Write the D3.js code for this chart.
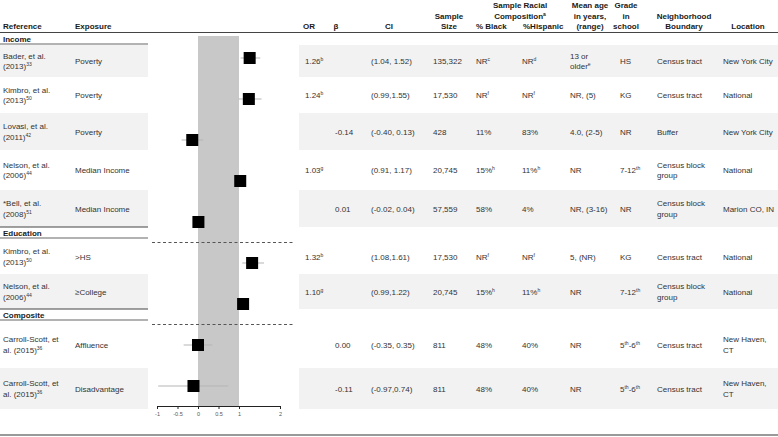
<!DOCTYPE html>
<html>
<head>
<meta charset="utf-8">
<script src="https://cdn.jsdelivr.net/npm/d3@7"></script>
<style>
  body { margin: 0; background: #fff; }
  svg { display: block; font-family: "Liberation Sans", Arial, sans-serif; }
</style>
</head>
<body>
<svg id="chart"></svg>
<script>
'use strict'

// ---- data ----
const category = ["Income", "Income", "Income", "Income", "Income", "Education", "Education", "Composite", "Composite"];
const reference = ["Bader, et al.|(2013)^{33}", "Kimbro, et al.|(2013)^{50}", "Lovasi, et al.|(2011)^{42}",
    "Nelson, et al.|(2006)^{44}", "*Bell, et al.|(2008)^{51}", "Kimbro, et al.|(2013)^{50}",
    "Nelson, et al.|(2006)^{44}", "Carroll-Scott, et|al. (2015)^{36}", "Carroll-Scott, et|al. (2015)^{36}"];
const exposure = ["Poverty", "Poverty", "Poverty", "Median Income", "Median Income", ">HS", "≥College", "Affluence", "Disadvantage"];
const orText = ["1.26^{b}", "1.24^{b}", "", "1.03^{g}", "", "1.32^{b}", "1.10^{g}", "", ""];
const betaText = ["", "", "-0.14", "", "0.01", "", "", "0.00", "-0.11"];
const estimate = [1.26, 1.24, -0.14, 1.03, 0.01, 1.32, 1.10, 0.00, -0.11];
const ciLow = [1.04, 0.99, -0.40, 0.91, -0.02, 1.08, 0.99, -0.35, -0.97];
const ciHigh = [1.52, 1.55, 0.13, 1.17, 0.04, 1.61, 1.22, 0.35, 0.74];
const ciText = ["(1.04, 1.52)", "(0.99,1.55)", "(-0.40, 0.13)", "(0.91, 1.17)", "(-0.02, 0.04)",
    "(1.08,1.61)", "(0.99,1.22)", "(-0.35, 0.35)", "(-0.97,0.74)"];
const sampleSize = ["135,322", "17,530", "428", "20,745", "57,559", "17,530", "20,745", "811", "811"];
const pctBlack = ["NR^{c}", "NR^{f}", "11%", "15%^{h}", "58%", "NR^{f}", "15%^{h}", "48%", "48%"];
const pctHispanic = ["NR^{d}", "NR^{f}", "83%", "11%^{h}", "4%", "NR^{f}", "11%^{h}", "40%", "40%"];
const meanAge = ["13 or|older^{e}", "NR, (5)", "4.0, (2-5)", "NR", "NR, (3-16)", "5, (NR)", "NR", "NR", "NR"];
const grade = ["HS", "KG", "NR", "7-12^{th}", "NR", "KG", "7-12^{th}", "5^{th}-6^{th}", "5^{th}-6^{th}"];
const boundary = ["Census tract", "Census tract", "Buffer", "Census block|group", "Census block|group",
    "Census tract", "Census block|group", "Census tract", "Census tract"];
const place = ["New York City", "National", "New York City", "National", "Marion CO, IN", "National",
    "National", "New Haven,|CT", "New Haven,|CT"];
const axisTicks = [-1, -0.5, 0, 0.5, 1, 2];

// ---- layout ----
const width = 778, height = 437;
const rowTop = [45, 77, 113, 150, 190, 239, 274, 321, 368];
const rowBottom = [77, 113, 150, 190, 227, 274, 309, 368, 409];
const leftEdge = 148, rightStart = 299;
const lineGap = 10.5;

const svg = d3.select("#chart").attr("width", width).attr("height", height);

// writes "abc^{x}" as text with superscripts
function richText(sel, str) {
    const parts = str.split(/\^\{([^}]*)\}/);
    let raised = false;
    parts.forEach((p, i) => {
        if (p === "") { return; }
        const sup = i % 2 === 1;
        const t = sel.append("tspan").text(p);
        if (sup && !raised) { t.attr("font-size", 5).attr("dy", -3); raised = true; }
        else if (!sup && raised) { t.attr("dy", 3); raised = false; }
        else if (sup) { t.attr("font-size", 5); }
    });
}

function cell(g, str, x, anchor, cy, opts) {
    const lines = str.split("|");
    lines.forEach((ln, i) => {
        const t = g.append("text")
            .attr("x", x)
            .attr("y", cy + (i - (lines.length - 1) / 2) * lineGap + 3)
            .attr("text-anchor", anchor)
            .attr("font-size", 8)
            .attr("fill", opts && opts.bold ? "#1a1a1a" : "#333")
            .attr("font-weight", opts && opts.bold ? "bold" : null);
        richText(t, ln);
    });
}

// row shading
const shade = svg.append("g");
rowTop.forEach((top, i) => {
    if (i % 2 !== 0) return;
    shade.append("rect").attr("x", 0).attr("y", top).attr("width", leftEdge)
        .attr("height", rowBottom[i] - top).attr("fill", "#f2f2f2");
    shade.append("rect").attr("x", rightStart).attr("y", top).attr("width", width - rightStart)
        .attr("height", rowBottom[i] - top).attr("fill", "#f2f2f2");
});

// header
const head = svg.append("g");
const headers = [
    { t: "Reference", x: 3, a: "start" },
    { t: "Exposure", x: 75, a: "start" },
    { t: "OR", x: 309, a: "middle" },
    { t: "β", x: 336, a: "middle" },
    { t: "CI", x: 389, a: "middle" },
    { t: "Sample|Size", x: 449, a: "middle" },
    { t: "Sample Racial|Composition^{a}|", x: 520, a: "middle" },
    { t: "% Black", x: 476, a: "start" },
    { t: "%Hispanic", x: 523, a: "start" },
    { t: "Mean age|in years,|(range)", x: 590, a: "middle" },
    { t: "Grade|in|school", x: 626, a: "middle" },
    { t: "Neighborhood|Boundary", x: 684, a: "middle" },
    { t: "Location", x: 748, a: "middle" }
];
headers.forEach(h => {
    const lines = h.t.split("|");
    lines.forEach((ln, i) => {
        if (ln === "") return;
        const t = head.append("text")
            .attr("x", h.x)
            .attr("y", 26 - (lines.length - 1 - i) * lineGap + 3)
            .attr("text-anchor", h.a)
            .attr("font-size", 8)
            .attr("font-weight", "bold")
            .attr("fill", "#1a1a1a");
        richText(t, ln);
    });
});
svg.append("line").attr("x1", 0).attr("x2", width).attr("y1", 32.5).attr("y2", 32.5)
    .attr("stroke", "#444").attr("stroke-width", 1);
svg.append("line").attr("x1", 0).attr("x2", width).attr("y1", 435).attr("y2", 435)
    .attr("stroke", "#999").attr("stroke-width", 2);

// section headers
const sectionNames = Array.from(new Set(category));
sectionNames.forEach((name, si) => {
    const first = category.indexOf(name);
    const top = rowTop[first];
    if (si > 0) {
        svg.append("line").attr("x1", 0).attr("x2", leftEdge).attr("y1", top - 12).attr("y2", top - 12)
            .attr("stroke", "#444").attr("stroke-width", 1);
    }
    svg.append("line").attr("x1", 0).attr("x2", leftEdge).attr("y1", top - 1).attr("y2", top - 1)
        .attr("stroke", "#999").attr("stroke-width", 1.5);
    cell(svg, name, 3, "start", top - 6.5, { bold: true });
});

// table body
const columns = [
    { v: reference, x: 3 }, { v: exposure, x: 75 }, { v: orText, x: 305 }, { v: betaText, x: 335 },
    { v: ciText, x: 371 }, { v: sampleSize, x: 433 }, { v: pctBlack, x: 476 }, { v: pctHispanic, x: 522 },
    { v: meanAge, x: 570 }, { v: grade, x: 620 }, { v: boundary, x: 657 }, { v: place, x: 723 }
];
const body = svg.append("g");
columns.forEach(c => {
    c.v.forEach((str, i) => {
        if (str === "") return;
        cell(body, str, c.x, "start", (rowTop[i] + rowBottom[i]) / 2);
    });
});

// forest plot
const x = d3.scaleLinear().domain([-1, 2]).range([157, 280]);
const y = d3.scalePoint().domain(d3.range(estimate.length)).range([58, 386]);
const axisY = 406;

const plot = svg.append("g");
plot.append("rect")
    .attr("x", x(0)).attr("y", 36)
    .attr("width", x(1) - x(0)).attr("height", axisY - 36)
    .attr("fill", "#c8c8c8");

// dashed separators between sections
sectionNames.slice(1).forEach(name => {
    const first = category.indexOf(name);
    const yy = (y(first) + y(first - 1)) / 2;
    plot.append("line").attr("x1", 152).attr("x2", 295).attr("y1", yy).attr("y2", yy)
        .attr("stroke", "#555").attr("stroke-width", 1).attr("stroke-dasharray", "3,2.5");
});

plot.selectAll("line.ci")
    .data(estimate)
    .enter().append("line")
    .attr("class", "ci")
    .attr("x1", (d, i) => x(ciLow[i]))
    .attr("x2", (d, i) => x(ciHigh[i]))
    .attr("y1", (d, i) => y(i))
    .attr("y2", (d, i) => y(i))
    .attr("stroke", "#b5b5b5")
    .attr("stroke-width", 1);

plot.selectAll("rect.pt")
    .data(estimate)
    .enter().append("rect")
    .attr("class", "pt")
    .attr("x", d => x(d) - 6)
    .attr("y", (d, i) => y(i) - 6)
    .attr("width", 12)
    .attr("height", 12)
    .attr("fill", "#000");

const axis = plot.append("g")
    .attr("transform", `translate(0,${axisY})`)
    .call(d3.axisBottom(x).tickValues(axisTicks).tickSize(3).tickSizeOuter(0).tickFormat(d => String(d)));
axis.select(".domain").attr("stroke", "#222");
axis.selectAll(".tick line").attr("stroke", "#222");
axis.selectAll(".tick text").attr("font-size", 5.5).attr("fill", "#555")
    .attr("font-family", "\"Liberation Sans\", Arial, sans-serif");
</script>
</body>
</html>
